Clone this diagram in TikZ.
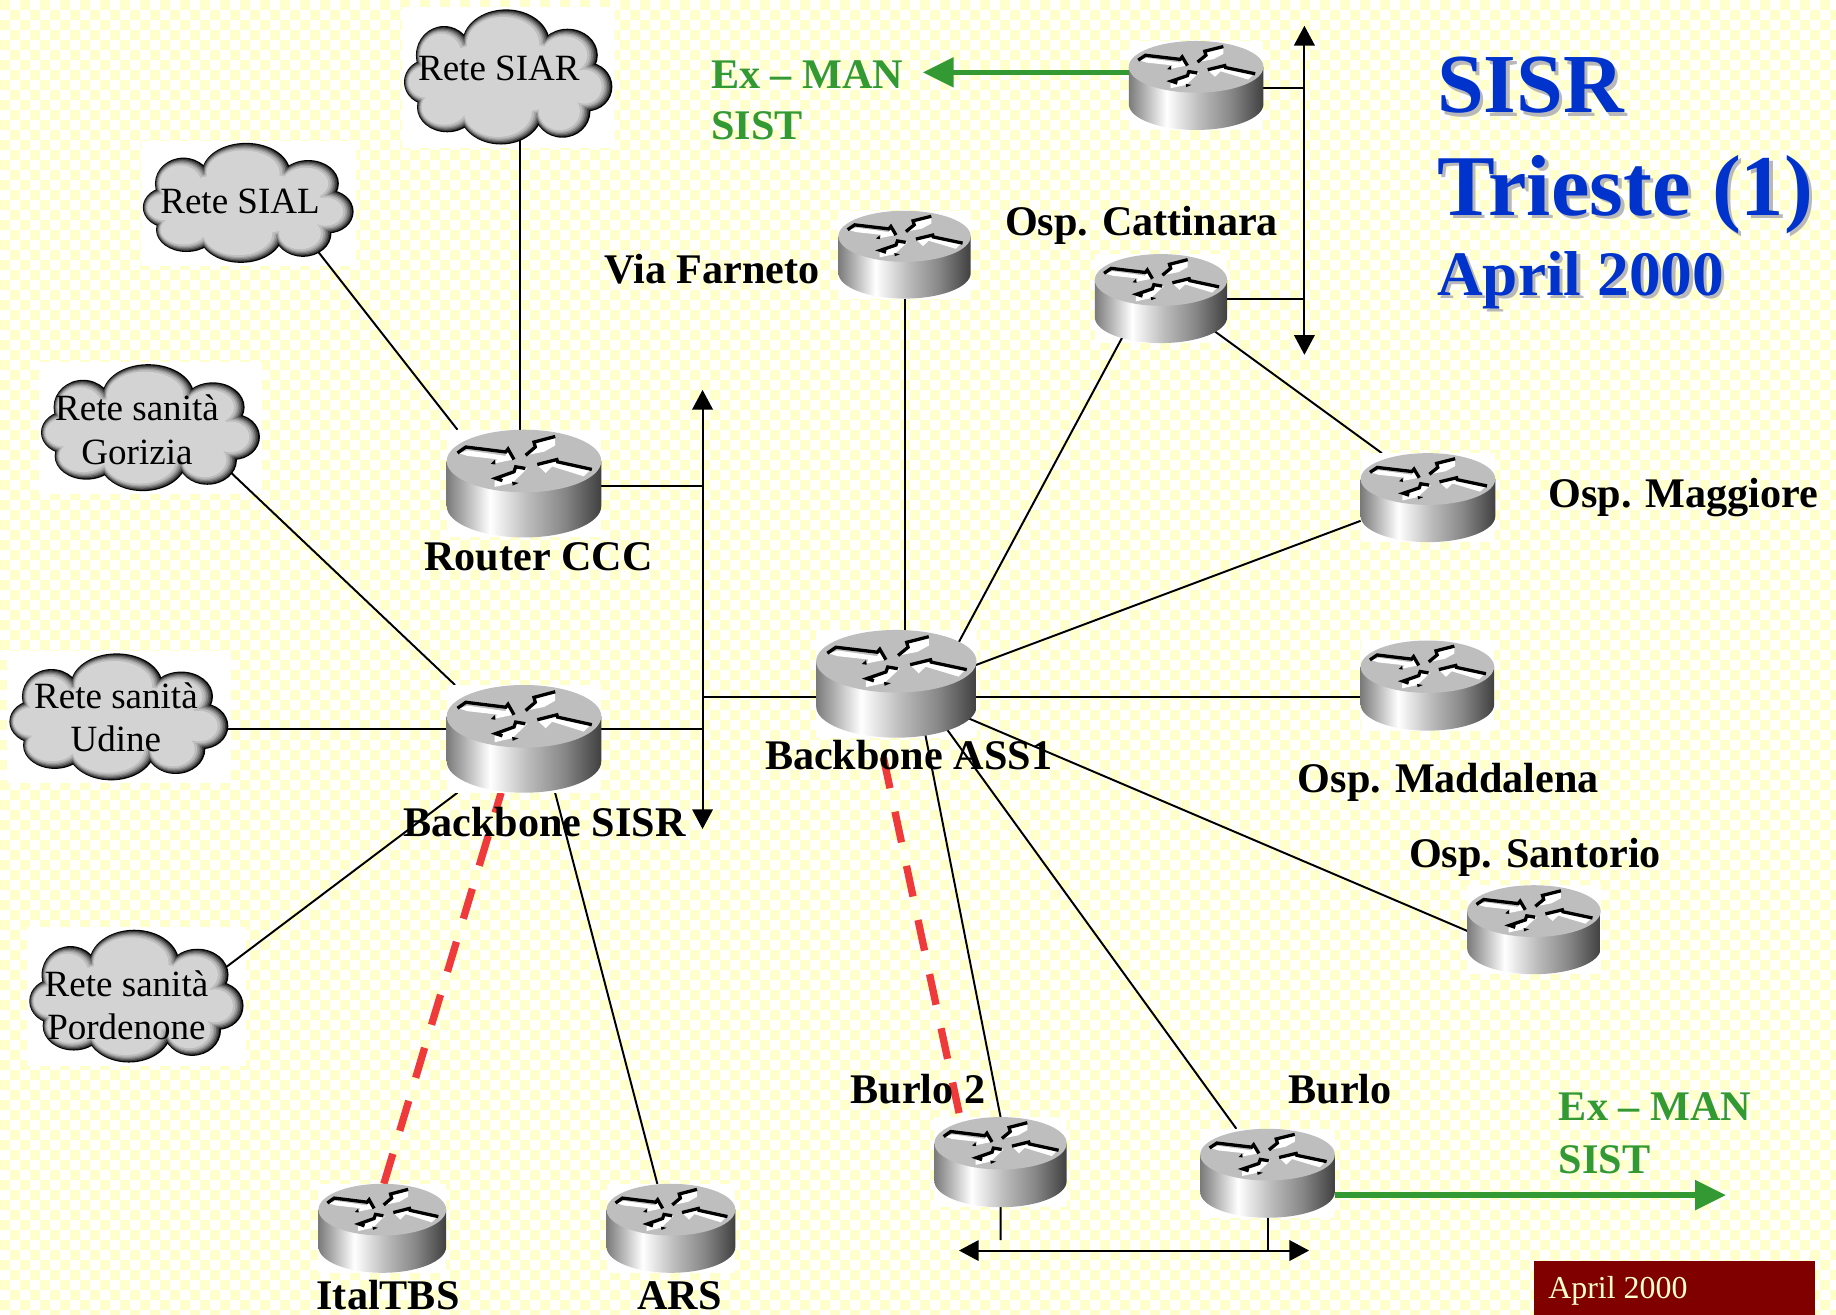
\documentclass[tikz,border=0pt]{standalone}
\usepackage{fontspec}
\setmainfont{Liberation Serif}
\usepackage{tikz}
\usetikzlibrary{arrows.meta}

\definecolor{chequer}{HTML}{FFFFCC}
\definecolor{routertop}{HTML}{BEBEBE}
\definecolor{cloudgrey}{HTML}{D3D3D3}
\definecolor{linkred}{HTML}{EE3A3A}
\definecolor{exgreen}{HTML}{339933}
\definecolor{titleblue}{HTML}{0033CC}
\definecolor{footred}{HTML}{800000}

\pgfdeclarehorizontalshading{routerside}{100bp}{rgb(0bp)=(.48,.48,.48);rgb(25bp)=(.48,.48,.48);rgb(39bp)=(1,1,1);rgb(51bp)=(.74,.74,.74);rgb(63bp)=(.53,.53,.53);rgb(75bp)=(.25,.25,.25);rgb(100bp)=(.25,.25,.25)}

\tikzset{
  routerbox/.style={inner sep=0pt,outer sep=0pt},
  corebox/.style={inner sep=0pt,outer sep=0pt},
  link/.style={black,line width=0.95pt},
  redlink/.style={linkred,line width=3.55pt,dash pattern=on 15.2pt off 11.7pt},
  buslink/.style={black,line width=1pt,{Triangle[length=9.6pt,width=10pt]}-{Triangle[length=9.6pt,width=10pt]}},
  exlink/.style={exgreen,line width=2.8pt,-{Triangle[length=15pt,width=14pt]}},
  routerlabel/.style={anchor=base west,inner sep=0pt,font=\fontsize{20.5}{24}\selectfont\bfseries},
  cloudtext/.style={anchor=base,inner sep=0pt,font=\fontsize{18}{21}\selectfont},
  extext/.style={anchor=base west,inner sep=0pt,text=exgreen,font=\fontsize{20.5}{24}\selectfont\bfseries},
  bigtitle/.style={anchor=base west,inner sep=0pt,font=\fontsize{40.8}{48}\selectfont\bfseries},
  citytitle/.style={anchor=base west,inner sep=0pt,font=\fontsize{42.1}{48}\selectfont\bfseries},
  smalltitle/.style={anchor=base west,inner sep=0pt,font=\fontsize{30.8}{36}\selectfont\bfseries},
}

\newcommand{\routerlist}{ccc/447.5/413/132/92,sisr/447.5/631/132/92,topr/1021.5/73/115/76,farneto/772.5/217.5/113/75,magg/1219.5/425/115/76,madd/1219/585.5/114/77,sant/1310/794/114/76,ital/326.5/1049/109/76,ars/573/1049/110/76,burlotwo/854.5/992.5/113/77,burlo/1082.5/1002/115/76}
\newcommand{\hublist}{ass/765.5/584/137/92,catt/991.5/255/113/76}
\newcommand{\cloudlist}{siar/434/66/178/116,sial/212/173.5/180/103,gori/128.5/365.5/187/109,udin/101.5/612.5/187/109,pord/116.5/851/183/114}
\newcommand{\lobelist}{-.02/.5/.42/.5,-.615/.325/.27/.43,.57/.325/.29/.39,-.76/-.07/.24/.34,.76/-.14/.24/.36,-.585/-.44/.29/.37,-.07/-.5/.4/.49,.52/-.5/.27/.39,0/0/.8/.64}

\newcommand{\routerdraw}{
  \shade[shading=routerside] (-232.5,68.5) -- (-232.5,-68.5) arc (180:360:232.5 and 95) -- (232.5,68.5) -- cycle;
  \fill[routertop] (0,68.5) ellipse (232.5 and 95);
  \fill[white] (-195,92) -- (-170,101) -- (-55,84) -- (-52,101) -- (-28,74) -- (-85,62) -- (-82,74) -- (-170,84) -- cycle;
  \fill[white] (94,140) -- (34,122) -- (7,86) -- (61,97) -- (94,116) -- cycle;
  \fill[white] (40,57) -- (100,72) -- (200,42) -- (180,22) -- (85,52) -- (65,32) -- cycle;
  \fill[white] (-88,-10) -- (-35,2) -- (10,46) -- (-25,46) -- (-45,30) -- (-88,8) -- cycle;
  \draw[line width=1.6pt,black] (-200,93) -- (-175,111) -- (-55,96) -- (-48,105) -- (-30,73);
  \draw[line width=1.6pt,black] (94,143) -- (30,126) -- (34,111) -- (5,86);
  \draw[line width=1.6pt,black] (40,58) -- (99,73) -- (101,66) -- (204,43);
  \draw[line width=1.6pt,black] (4,46) -- (-25,51) -- (-30,36) -- (-85,16) -- (-65,9);
  \fill[black] (-100,60) -- (-88,72) -- (-86,58) -- cycle;
  \fill[black] (-36,6) -- (-16,2) -- (-34,-6) -- cycle;
}

\begin{document}
\begin{tikzpicture}[x=0.2mm,y=0.2mm]
\useasboundingbox (0,0) rectangle (1568,-1123);
\fill[white] (0,0) rectangle (1568,-1123);
\foreach \row in {0,...,131} {
  \pgfmathsetmacro{\ypos}{(\row+0.5)*8.54}
  \pgfmathsetmacro{\phase}{mod(\row,2)*1.708}
  \draw[chequer,line width=1.708mm,dash pattern=on 1.708mm off 1.708mm,dash phase=\phase mm] (0,-\ypos) -- (1568,-\ypos);
}

\foreach \name/\x/\y/\w/\h in \routerlist
  \node[routerbox,minimum width=\w*0.2mm,minimum height=\h*0.2mm] (\name) at (\x,-\y) {};
\foreach \name/\x/\y/\w/\h in \hublist {
  \fill[white] (\x-\w/2,-\y-\h/2) rectangle (\x+\w/2,-\y+\h/2);
  \node[corebox,minimum width=0.76*\w*0.2mm,minimum height=0.7*\h*0.2mm] (\name) at (\x,-\y) {};
}
\foreach \name/\x/\y/\w/\h in \cloudlist {
  \fill[white] (\x-\w/2-2,-\y-\h/2-2) rectangle (\x+\w/2+2,-\y+\h/2+2);
  \node[corebox,minimum width=0.6*\w*0.2mm,minimum height=0.6*\h*0.2mm] (\name) at (\x,-\y) {};
}

\coordinate (bustop) at (600,-333);
\coordinate (busbot) at (600,-708);
\coordinate (ringtop) at (1114,-22);
\coordinate (ringbot) at (1114,-303);
\coordinate (baseleft) at (819,-1068);
\coordinate (baseright) at (1118,-1068);
\coordinate (stubend) at (854.6,-1059);
\coordinate (extop) at (788,-62);
\coordinate (exbot) at (1474,-1021);
\coordinate (redstart) at (754.5,-647);

\draw[link] (ccc.94) -- (ccc.94 |- siar.south);
\draw[link] (ccc.141) -- (sial.-31);
\draw[link] (sisr.142) -- (gori.-25);
\draw[link] (sisr.173) -- (sisr.173 -| udin.east);
\draw[link] (sisr.219) -- (pord.9);
\draw[link] (sisr.-60) -- (ars.107);
\draw[redlink] (ital.88) -- (sisr.-113);
\draw[buslink] (bustop) -- (busbot);
\draw[link] (ccc.-2) -- (ccc.-2 -| bustop);
\draw[link] (sisr.7) -- (sisr.7 -| bustop);
\draw[link] (ass.192) -- (ass.192 -| bustop);
\draw[link] (farneto.south) -- (farneto.south |- ass.north);
\draw[link] (catt.222) -- (ass.32);
\draw[link] (catt.-31) -- (magg.136);
\draw[link] (magg.199) -- (ass.11);
\draw[link] (madd.190) -- (madd.190 -| ass.east);
\draw[link] (sant.181) -- (ass.-26);
\draw[link] (burlotwo.north) -- (ass.-55);
\draw[link] (burlo.125) -- (ass.-40);
\draw[redlink] (redstart) -- (burlotwo.132);
\draw[buslink] (ringtop) -- (ringbot);
\draw[link] (topr.-2) -- (topr.-2 -| ringtop);
\draw[link] (catt.east) -- (catt.east -| ringtop);
\draw[buslink] (baseleft) -- (baseright);
\draw[link] (burlotwo.south) -- (stubend);
\draw[link] (burlo.south) -- (burlo.south |- baseleft);
\draw[exlink] (topr.169) -- (topr.169 -| extop);
\draw[exlink] (burlo.-18) -- (burlo.-18 -| exbot);

\foreach \name/\x/\y/\w/\h in \routerlist {
  \fill[white] (\x-\w/2,-\y-\h/2) rectangle (\x+\w/2,-\y+\h/2);
  \begin{scope}[shift={(\x,-\y)},xscale=\w/465,yscale=\h/327]
    \routerdraw
  \end{scope}
}
\foreach \name/\x/\y/\w/\h in \hublist {
  \begin{scope}[shift={(\x,-\y)},xscale=\w/465,yscale=\h/327]
    \routerdraw
  \end{scope}
}
\foreach \name/\x/\y/\w/\h in \cloudlist {
  \begin{scope}[shift={(\x,-\y)}]
    \foreach \lev/\col in {0/black,1/black!78,2/black!62,3/black!48,4/black!36,5/black!26,6.5/cloudgrey}
      \foreach \u/\v/\ru/\rv in \lobelist
        \fill[\col] ({\u*\w/2-0.4*\lev},{\v*\h/2}) ellipse ({\ru*\w/2-\lev} and {\rv*\h/2-\lev});
  \end{scope}
}

\node[cloudtext] (tsiar) at (426,-69) {Rete SIAR};
\node[cloudtext] (tsial) at (205,-182) {Rete SIAL};
\node[cloudtext] (tgori) at (117,-359) {Rete sanità};
\node[cloudtext] (tgorib) at (117,-397) {Gorizia};
\node[cloudtext] (tudin) at (99,-605) {Rete sanità};
\node[cloudtext] (tudinb) at (99,-642) {Udine};
\node[cloudtext] (tpord) at (108,-851) {Rete sanità};
\node[cloudtext] (tpordb) at (108,-888) {Pordenone};

\node[routerlabel] (tccc) at (362,-487) {Router CCC};
\node[routerlabel] (tsisr) at (344,-714) {Backbone SISR};
\node[routerlabel] (tass) at (653,-657) {Backbone ASS1};
\node[routerlabel] (tfarneto) at (516,-242) {Via Farneto};
\node[routerlabel] (tcatt) at (858,-201) {Osp. Cattinara};
\node[routerlabel] (tmagg) at (1322,-433) {Osp. Maggiore};
\node[routerlabel] (tmadd) at (1108,-677) {Osp. Maddalena};
\node[routerlabel] (tsant) at (1203,-741) {Osp. Santorio};
\node[routerlabel] (tburlotwo) at (726,-942) {Burlo 2};
\node[routerlabel] (tburlo) at (1100,-942) {Burlo};
\node[routerlabel] (tital) at (270,-1118) {ItalTBS};
\node[routerlabel] (tars) at (544,-1118) {ARS};

\node[extext] (texa) at (607,-76) {Ex – MAN};
\node[extext] (texb) at (607,-119) {SIST};
\node[extext] (texc) at (1331,-957) {Ex – MAN};
\node[extext] (texd) at (1331,-1002) {SIST};

\foreach \col/\dx/\pre in {black!28/3/s,titleblue/0/t} {
  \node[bigtitle,text=\col] (\pre sisrname) at (1227+\dx,-96.5-\dx) {SISR};
  \node[citytitle,text=\col] (\pre city) at (1227+\dx,-184-\dx) {Trieste (1)};
  \node[smalltitle,text=\col] (\pre date) at (1227+\dx,-252-\dx) {April 2000};
}

\node[fill=footred,minimum width=240*0.2mm,minimum height=46*0.2mm,inner sep=0pt] (foot) at (1430,-1100) {};
\node[anchor=base west,inner sep=0pt,text=chequer,font=\fontsize{15.5}{18}\selectfont] (tfoot) at (1322,-1108.6) {April 2000};
\end{tikzpicture}
\end{document}
